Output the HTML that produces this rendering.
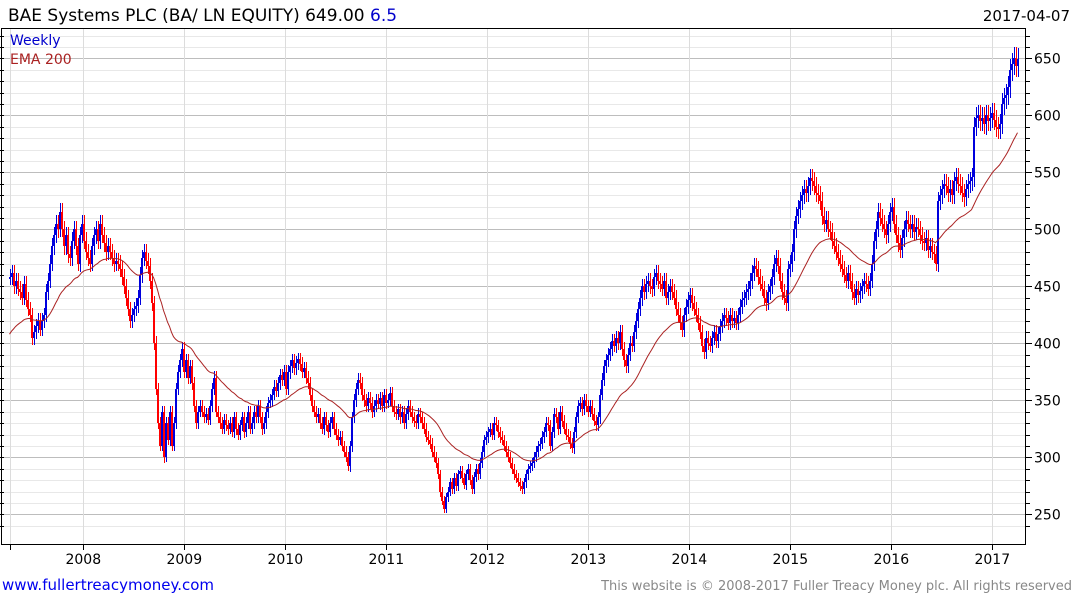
<!DOCTYPE html>
<html><head><meta charset="utf-8"><style>
body{margin:0;background:#fff;font-family:"Liberation Sans",sans-serif}
svg text{font-family:"DejaVu Sans","Liberation Sans",sans-serif}
</style></head><body>
<svg id="c" width="1075" height="600">
<text x="8" y="21" font-size="17" fill="#000">BAE Systems PLC (BA/ LN EQUITY) 649.00 <tspan fill="#0000cc">6.5</tspan></text>
<text x="1070" y="21" font-size="15" text-anchor="end" fill="#000">2017-04-07</text>
<g id="grid"></g><g id="bars" shape-rendering="crispEdges"></g><g id="ema"></g>
<rect x="1.5" y="28.5" width="1024" height="516" fill="none" stroke="#000" stroke-width="1"/>
<text x="10" y="45" font-size="14" fill="#0000cc">Weekly</text>
<text x="10" y="64" font-size="14" fill="#aa2222">EMA 200</text>
<text x="2" y="590" font-size="15" fill="#0000ee">www.fullertreacymoney.com</text>
<text x="1072" y="590" font-size="13" fill="#888" text-anchor="end">This website is © 2008-2017 Fuller Treacy Money plc. All rights reserved</text>
</svg>
<script>
const closes=[458,462,450,455,448,445,440,452,438,430,425,405,410,415,420,412,420,425,445,455,
470,485,495,505,500,515,500,485,495,478,475,490,500,485,470,495,505,490,480,475,
470,485,495,500,490,505,495,488,480,485,480,475,470,472,470,465,458,450,440,430,
420,425,430,433,440,460,475,480,472,468,455,435,400,360,330,310,340,300,330,315,
340,310,330,360,375,385,395,375,385,370,380,365,345,330,340,345,340,335,338,333,
345,360,370,340,335,330,325,333,328,325,330,322,335,325,320,328,335,322,330,340,
325,330,340,335,345,335,325,330,340,348,350,355,362,358,365,372,368,375,360,375,
380,385,378,383,386,382,375,378,370,365,355,345,340,335,338,330,325,335,328,322,
330,335,325,320,315,318,310,305,300,292,310,335,350,360,368,365,355,350,345,352,
348,340,345,350,347,352,345,355,348,350,356,345,340,338,342,335,340,330,338,345,
340,335,332,330,338,335,330,325,318,315,312,305,300,295,285,270,262,255,265,270,
278,272,282,275,285,288,282,276,285,290,280,272,283,290,285,295,305,315,318,322,
325,320,330,328,322,318,315,310,305,300,295,290,285,282,278,275,272,278,285,290,
292,295,300,305,310,312,318,322,330,328,310,322,338,335,325,340,332,325,320,318,
312,308,322,335,345,348,342,350,345,340,345,338,332,328,335,355,368,380,385,390,
395,402,398,405,400,410,395,385,380,390,400,398,410,420,430,440,450,445,452,455,
450,448,458,462,455,452,448,455,440,445,450,445,440,430,425,418,412,425,432,438,
442,435,430,425,418,410,398,392,405,400,398,405,410,402,408,415,420,425,422,418,
425,420,422,418,425,432,438,440,445,448,455,462,468,465,458,452,448,440,435,445,
450,458,470,475,468,455,445,440,435,465,470,480,500,512,518,525,530,535,532,538,
545,542,538,532,530,525,512,505,508,500,498,490,485,480,475,470,465,460,455,462,
455,445,440,448,442,446,450,455,452,448,455,470,490,500,515,510,505,500,495,505,
515,520,505,495,488,482,492,500,508,505,500,505,498,502,500,495,490,488,492,482,
485,480,478,470,525,530,535,540,538,532,535,530,542,546,540,538,532,528,535,540,
542,546,590,598,600,595,598,592,600,595,598,602,596,590,588,592,610,615,618,625,
640,645,650,643,649];
const yTicks=[250,300,350,400,450,500,550,600,650];
const xYears=['2008','2009','2010','2011','2012','2013','2014','2015','2016','2017'];
const emaSeed=408;
const NS='http://www.w3.org/2000/svg';
function el(t,a,p){const e=document.createElementNS(NS,t);for(const k in a)e.setAttribute(k,a[k]);p.appendChild(e);return e;}
function yS(v){return 58.3+(650-v)*1.14;}
function xS(i){return 9.5+i*(1008/(closes.length-1));}
function yearX(k){return 83.3+k*101;}
const grid=document.getElementById('grid');
for(let v=240;v<=670;v+=10){
  const y=Math.round(yS(v))+0.5; if(y<29||y>544)continue;
  const major=v%50===0;
  const l=el('line',{x1:2,x2:1026,y1:y,y2:y,stroke:major?'#bdbdbd':'#e8e8e8','stroke-width':1},grid);
  
  
  const t1=el('line',{x1:1026,x2:major?1032:1030,y1:y,y2:y,stroke:'#000'},grid);
  
  
  const t2=el('line',{x1:0,x2:4,y1:y,y2:y,stroke:'#000'},grid);
  
  
}
yTicks.forEach(v=>{
  const t=el('text',{x:1034,y:yS(v)+5,'font-size':14,fill:'#000'},grid);t.textContent=v;
  
  
});
const vx=[9.5].concat(xYears.map((s,k)=>yearX(k)));
vx.forEach(x=>{
  x=Math.round(x)+0.5;
  const l=el('line',{x1:x,x2:x,y1:29,y2:544,stroke:'#dcdcdc'},grid);
  
  
  const t=el('line',{x1:x,x2:x,y1:544,y2:550,stroke:'#000'},grid);
  
  
});
xYears.forEach((s,k)=>{
  const t=el('text',{x:yearX(k),y:564,'font-size':14,'text-anchor':'middle',fill:'#000'},grid);t.textContent=s;
  
  
});
const bars=document.getElementById('bars');
let ema=emaSeed;const pts=[];const a=2/41;
closes.forEach((c,i)=>{
  const o=i?closes[i-1]:c;const up=c>=o;const col=up?'#0000dd':'#ff0000';
  const x=xS(i);const xi=Math.round(x);
  const hi=Math.max(o,c)*1.015,lo=Math.min(o,c)*0.985;
  const w=el('rect',{x:xi,y:Math.round(yS(hi)),width:1,height:Math.round(yS(lo)-yS(hi)),fill:col,stroke:'none'},bars);
  
  
  const top=Math.round(yS(Math.max(o,c))),h=Math.max(2,Math.round(yS(Math.min(o,c))-top));
  const r=el('rect',{x:xi-1,y:top,width:2,height:h,fill:col,stroke:'none'},bars);
  
  
  ema=i?ema+a*(c-ema):emaSeed;
  pts.push(x.toFixed(1)+','+yS(ema).toFixed(1));
});
const p=el('polyline',{points:pts.join(' '),fill:'none',stroke:'#aa2222','stroke-width':1},document.getElementById('ema'));


</script>
</body></html>
